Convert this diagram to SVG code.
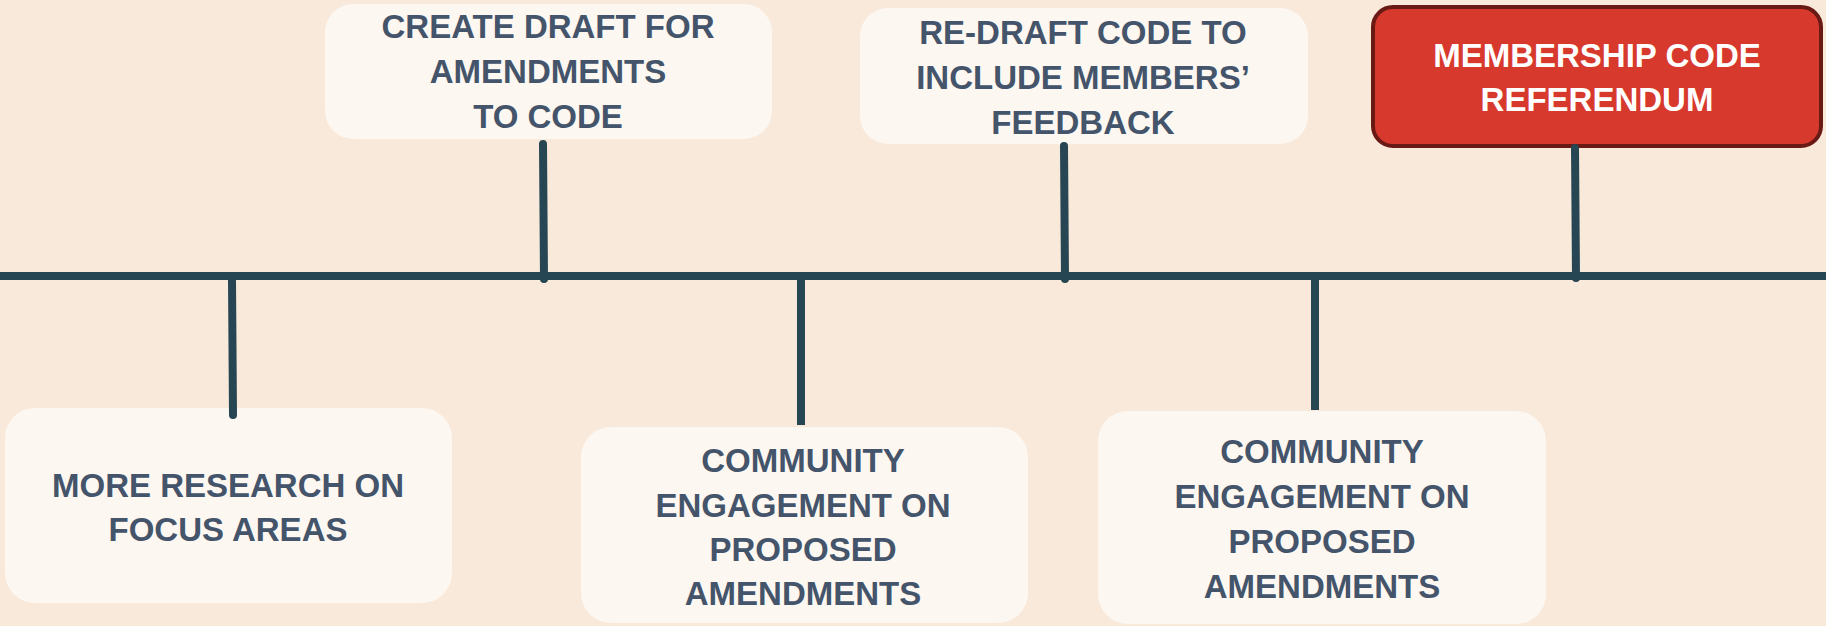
<svg xmlns="http://www.w3.org/2000/svg" width="1826" height="626" viewBox="0 0 1826 626">
<style>
.bg{fill:#F9E9DA}
.box{fill:#FDF7F1}
.red{fill:#D8392D;stroke:#6A1A14;stroke-width:4}
.t{font-family:"Liberation Sans",Arial,sans-serif;font-weight:bold;font-size:33px;fill:#44546A;text-anchor:middle}
.w{fill:#FFFFFF}
.ln{stroke:#264653;stroke-width:8;stroke-linecap:round;fill:none}
</style>
<rect class="bg" x="0" y="0" width="1826" height="626"/>
<g id="b1">
<rect class="box" x="325" y="4" width="447" height="135" rx="28"/>
<text class="t" x="548" y="38">CREATE DRAFT FOR</text>
<text class="t" x="548" y="83">AMENDMENTS</text>
<text class="t" x="548" y="128">TO CODE</text>
</g>
<g id="b2">
<rect class="box" x="860" y="8" width="448" height="136" rx="28"/>
<text class="t" x="1083" y="44">RE-DRAFT CODE TO</text>
<text class="t" x="1083" y="89">INCLUDE MEMBERS’</text>
<text class="t" x="1083" y="134">FEEDBACK</text>
</g>
<g id="b3">
<rect class="red" x="1373" y="7" width="448" height="139" rx="20"/>
<text class="t w" x="1597" y="67">MEMBERSHIP CODE</text>
<text class="t w" x="1597" y="111">REFERENDUM</text>
</g>
<g id="b4">
<rect class="box" x="5" y="408" width="447" height="195" rx="30"/>
<text class="t" x="228" y="497">MORE RESEARCH ON</text>
<text class="t" x="228" y="541">FOCUS AREAS</text>
</g>
<g id="b5">
<rect class="box" x="581" y="427" width="447" height="196" rx="30"/>
<text class="t" x="803" y="472">COMMUNITY</text>
<text class="t" x="803" y="517">ENGAGEMENT ON</text>
<text class="t" x="803" y="561">PROPOSED</text>
<text class="t" x="803" y="605">AMENDMENTS</text>
</g>
<g id="b6">
<rect class="box" x="1098" y="411" width="448" height="213" rx="30"/>
<text class="t" x="1322" y="463">COMMUNITY</text>
<text class="t" x="1322" y="508">ENGAGEMENT ON</text>
<text class="t" x="1322" y="553">PROPOSED</text>
<text class="t" x="1322" y="598">AMENDMENTS</text>
</g>
<g id="connectors">
<line class="ln" x1="-5" y1="276" x2="1831" y2="276" style="stroke-linecap:butt"/>
<line class="ln" x1="543" y1="144" x2="544" y2="279"/>
<line class="ln" x1="1064" y1="146" x2="1065" y2="279"/>
<line class="ln" x1="1575" y1="148" x2="1576" y2="278"/>
<line class="ln" x1="232" y1="280" x2="233" y2="415"/>
<line class="ln" x1="801" y1="280" x2="801" y2="425" style="stroke-linecap:butt"/>
<line class="ln" x1="1315" y1="280" x2="1315" y2="410" style="stroke-linecap:butt"/>
</g>
</svg>
